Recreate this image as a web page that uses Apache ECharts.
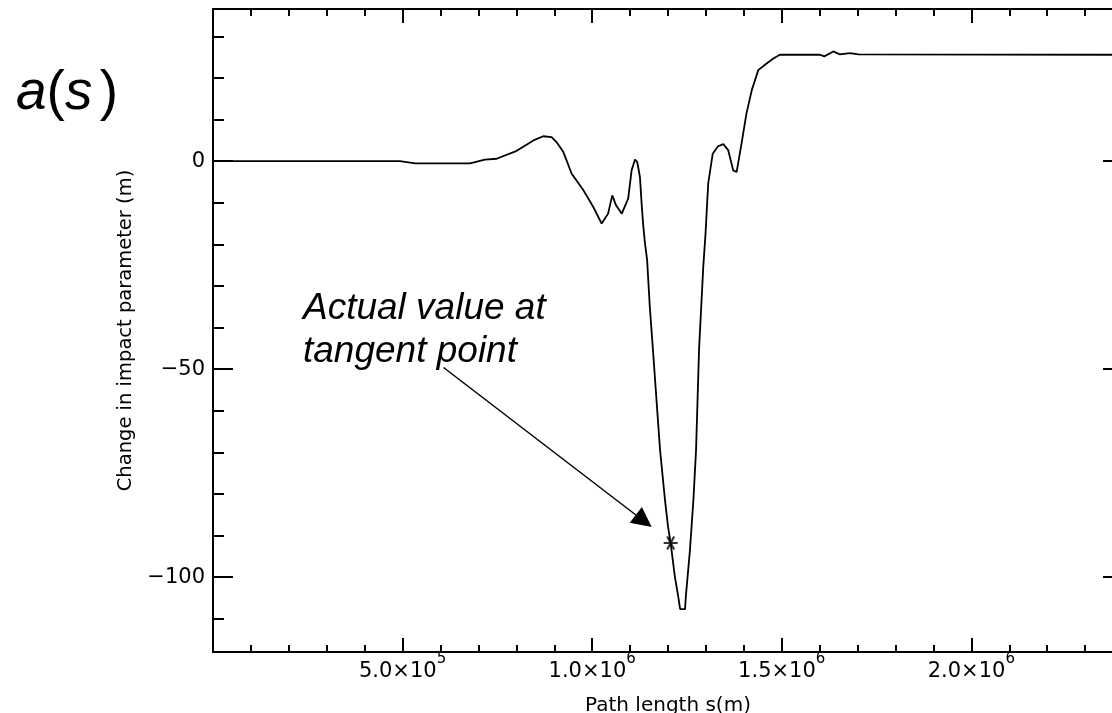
<!DOCTYPE html>
<html><head><meta charset="utf-8">
<script src="https://cdn.jsdelivr.net/npm/echarts@6/dist/echarts.min.js"></script>
<style>html,body{margin:0;padding:0;background:#fff}#c{width:1112px;height:713px}</style>
</head><body><div id="c"></div>
<script>
// Path length s (m)
const pathLength = [0, 0.493e6, 0.533e6, 0.678e6, 0.717e6, 0.748e6, 0.801e6, 0.845e6, 0.871e6, 0.893e6,
  0.906e6, 0.924e6, 0.946e6, 0.977e6, 1.003e6, 1.025e6, 1.042e6, 1.053e6, 1.063e6, 1.078e6,
  1.095e6, 1.104e6, 1.113e6, 1.119e6, 1.126e6, 1.131e6, 1.135e6, 1.139e6, 1.145e6, 1.152e6,
  1.160e6, 1.179e6, 1.192e6, 1.200e6, 1.207e6, 1.218e6, 1.227e6, 1.232e6, 1.245e6, 1.247e6,
  1.258e6, 1.267e6, 1.274e6, 1.282e6, 1.293e6, 1.299e6, 1.306e6, 1.318e6, 1.332e6, 1.346e6,
  1.359e6, 1.372e6, 1.381e6, 1.394e6, 1.407e6, 1.421e6, 1.438e6, 1.460e6, 1.478e6, 1.495e6,
  1.601e6, 1.612e6, 1.636e6, 1.653e6, 1.680e6, 1.702e6, 2.4e6];
// Change in impact parameter (m)
const impactChange = [0, 0, -0.5, -0.5, 0.4, 0.6, 2.5, 5.0, 6.0, 5.8,
  4.6, 2.2, -3.0, -7.0, -11.0, -15.0, -12.6, -8.2, -10.6, -12.6,
  -9.0, -2.2, 0.4, -0.2, -3.8, -11.0, -15.8, -19.5, -23.8, -35.0,
  -45.0, -69.4, -81.4, -87.8, -91.8, -99.8, -104.7, -107.7, -107.7, -104.7,
  -93.4, -81.4, -69.4, -45.0, -25.4, -17.4, -5.4, 1.8, 3.6, 4.1,
  2.6, -2.2, -2.6, 4.3, 11.5, 17.1, 21.9, 23.5, 24.7, 25.6,
  25.6, 25.2, 26.4, 25.7, 26.0, 25.7, 25.6];
const tangentPoint = [1.207e6, -91.8];
const arrowFrom = [0.608e6, -49.6];
const arrowTo = [1.136e6, -86.5];

const xMajorTicks = [5e5, 1e6, 1.5e6, 2e6];
const xMajorLabels = [['5.0×10', '5'], ['1.0×10', '6'], ['1.5×10', '6'], ['2.0×10', '6']];
const xMinorTicks = [1e5, 2e5, 3e5, 4e5, 6e5, 7e5, 8e5, 9e5, 1.1e6, 1.2e6, 1.3e6, 1.4e6,
  1.6e6, 1.7e6, 1.8e6, 1.9e6, 2.1e6, 2.2e6, 2.3e6];
const yMajorTicks = [-100, -50, 0];
const yMinorTicks = [-110, -90, -80, -70, -60, -40, -30, -20, -10, 10, 20, 30];

const X_MIN = 0, X_MAX = 2.4e6, Y_MIN = -118, Y_MAX = 36.6;
const FONT = 'DejaVu Sans';
const INK = '#000';

function xAxisDef(pos, ticks, len, showLine, labels) {
  return {
    type: 'value', min: X_MIN, max: X_MAX, position: pos,
    axisLine: {show: showLine, onZero: false, lineStyle: {color: INK, width: 2}},
    axisTick: {show: true, inside: true, length: len, customValues: ticks, lineStyle: {color: INK, width: 2}},
    axisLabel: labels ? {
      show: true, customValues: ticks, margin: 0, color: INK,
      formatter: function (v) {
        const i = xMajorTicks.indexOf(v);
        if (i < 0) return '';
        return '{b|' + xMajorLabels[i][0] + '}{s|' + xMajorLabels[i][1] + '}';
      },
      rich: {
        b: {fontFamily: FONT, fontSize: 21, lineHeight: 40, color: INK},
        s: {fontFamily: FONT, fontSize: 15, lineHeight: 15, verticalAlign: 'top', color: INK}
      }
    } : {show: false},
    splitLine: {show: false}
  };
}
function yAxisDef(pos, ticks, len, showLine, labels) {
  return {
    type: 'value', min: Y_MIN, max: Y_MAX, position: pos,
    axisLine: {show: showLine, onZero: false, lineStyle: {color: INK, width: 2}},
    axisTick: {show: true, inside: true, length: len, customValues: ticks, lineStyle: {color: INK, width: 2}},
    axisLabel: labels ? {
      show: true, customValues: ticks, margin: 8, color: INK,
      fontFamily: FONT, fontSize: 21,
      formatter: function (v) { return v < 0 ? '\u2212' + (-v) : String(v); }
    } : {show: false},
    splitLine: {show: false}
  };
}

const xBottom = xAxisDef('bottom', xMajorTicks, 14, true, true);
xBottom.name = 'Path length s(m)';
xBottom.nameLocation = 'middle';
xBottom.nameGap = 44;
xBottom.nameTextStyle = {fontFamily: FONT, fontSize: 20, color: INK};

const yLeft = yAxisDef('left', yMajorTicks, 20, true, true);
yLeft.name = 'Change in impact parameter (m)';
yLeft.nameLocation = 'middle';
yLeft.nameGap = 60;
yLeft.nameTextStyle = {fontFamily: FONT, fontSize: 19.5, color: INK};

const chart = echarts.init(document.getElementById('c'), null, {renderer: 'canvas'});
chart.setOption({
  backgroundColor: '#fff',
  animation: false,
  grid: {left: 213, top: 9, width: 910, height: 643, containLabel: false, outerBoundsMode: 'none'},
  xAxis: [
    xBottom,
    xAxisDef('bottom', xMinorTicks, 7, false, false),
    xAxisDef('top', xMajorTicks, 14, true, false),
    xAxisDef('top', xMinorTicks, 7, false, false)
  ],
  yAxis: [
    yLeft,
    yAxisDef('left', yMinorTicks, 11, false, false),
    yAxisDef('right', yMajorTicks, 20, true, false),
    yAxisDef('right', yMinorTicks, 11, false, false)
  ],
  graphic: [
    {
      type: 'text', left: 16, top: 66, silent: true,
      style: {
        text: '{i|a}{n|(}{i|s}{sp| }{n|)}',
        rich: {
          i: {fontFamily: 'Liberation Sans', fontStyle: 'italic', fontSize: 55, fill: INK},
          n: {fontFamily: 'Liberation Sans', fontSize: 55, fill: INK},
          sp: {fontFamily: 'Liberation Sans', fontSize: 26, fill: INK}
        }
      }
    },
    {
      type: 'text', left: 303, top: 287, silent: true,
      style: {
        text: 'Actual value at\ntangent point',
        fontFamily: 'Liberation Sans', fontStyle: 'italic', fontSize: 37,
        lineHeight: 43, fill: INK
      }
    }
  ],
  series: [
    {
      type: 'line', xAxisIndex: 0, yAxisIndex: 0,
      data: pathLength.map((s, i) => [s, impactChange[i]]),
      symbol: 'none', smooth: false,
      lineStyle: {color: INK, width: 1.8},
      markLine: {
        silent: true, animation: false,
        symbol: ['none', 'triangle'], symbolSize: 20,
        lineStyle: {color: INK, width: 1.5, type: 'solid'},
        label: {show: false},
        data: [[{coord: arrowFrom}, {coord: arrowTo}]]
      },
      z: 2
    },
    {
      type: 'scatter', xAxisIndex: 0, yAxisIndex: 0,
      data: [tangentPoint],
      symbol: 'path://M-10,0L10,0M-5,-8.66L5,8.66M-5,8.66L5,-8.66',
      symbolSize: [14, 13],
      itemStyle: {color: 'none', borderColor: INK, borderWidth: 2},
      z: 3
    }
  ]
});
</script></body></html>
